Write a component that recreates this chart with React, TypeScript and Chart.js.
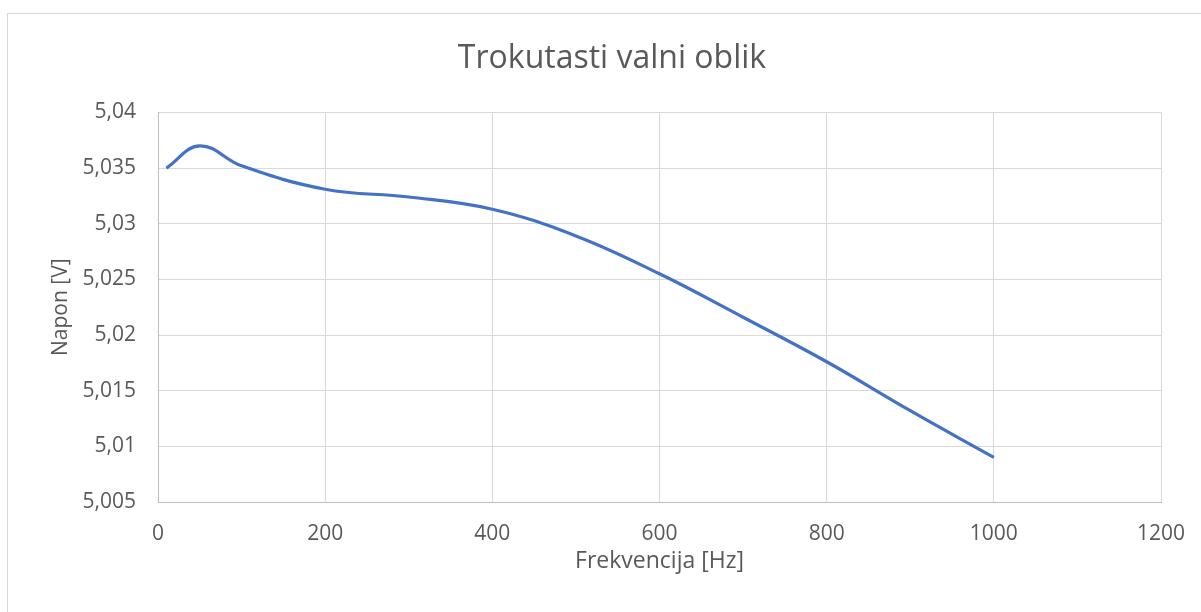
import React, { useEffect, useRef } from "react";
import { Chart, registerables } from "chart.js";

Chart.register(...registerables);

const TITLE = "Trokutasti valni oblik";
const X_TITLE = "Frekvencija [Hz]";
const Y_TITLE = "Napon [V]";

const frequency = [10, 50, 100, 200, 300, 400, 500, 600, 700, 800, 900, 1000];
const voltage = [5.035, 5.037, 5.0352, 5.0331, 5.0324, 5.0313, 5.0289, 5.0255, 5.0216, 5.0176, 5.0132, 5.009];

const X_TICKS = [0, 200, 400, 600, 800, 1000, 1200];
const Y_TICKS = [5.005, 5.01, 5.015, 5.02, 5.025, 5.03, 5.035, 5.04];

const FONT = "'Open Sans', 'Noto Sans', sans-serif";
const TEXT = "#595959";

const fmtY = (v: number) => {
  let s = v.toFixed(3);
  s = s.replace(/0+$/, "").replace(/\.$/, "");
  return s.replace(".", ",");
};

const outerBorder = {
  id: "outerBorder",
  beforeDraw(chart: any) {
    const { ctx, width, height } = chart;
    ctx.save();
    ctx.fillStyle = "#ffffff";
    ctx.fillRect(0, 0, width, height);
    ctx.strokeStyle = "#d9d9d9";
    ctx.lineWidth = 1;
    ctx.strokeRect(7.5, 13.5, width + 20, height + 20);
    ctx.restore();
  },
};

export default function App() {
  const ref = useRef<HTMLCanvasElement | null>(null);

  useEffect(() => {
    document.body.style.margin = "0";
    const canvas = ref.current;
    if (!canvas) return;
    const chart = new Chart(canvas, {
      type: "scatter",
      data: {
        datasets: [
          {
            data: frequency.map((x, i) => ({ x, y: voltage[i] })),
            showLine: true,
            borderColor: "#4472c4",
            backgroundColor: "#4472c4",
            borderWidth: 3.2,
            pointRadius: 0,
            tension: 0.4,
            fill: false,
          },
        ],
      },
      options: {
        responsive: false,
        animation: false,
        devicePixelRatio: 1,
        layout: { padding: { top: 0, left: 63, right: 40, bottom: 0 } },
        plugins: {
          legend: { display: false },
          tooltip: { enabled: false },
          title: {
            display: true,
            text: TITLE,
            color: TEXT,
            font: { family: FONT, size: 32, weight: "normal" },
            padding: { top: 40, bottom: 34 },
          },
        },
        scales: {
          x: {
            type: "linear",
            min: 0,
            max: 1200,
            afterBuildTicks: (scale: any) => {
              scale.ticks = X_TICKS.map((v) => ({ value: v }));
            },
            afterFit: (scale: any) => {
              scale.height = 110;
              scale.paddingRight = 0;
            },
            ticks: {
              color: TEXT,
              font: { family: FONT, size: 21 },
              padding: 19,
              maxRotation: 0,
              callback: (v: any) => String(v),
            },
            grid: { color: "#d9d9d9", lineWidth: 1, drawTicks: false },
            border: { color: "#bfbfbf", width: 1 },
            title: {
              display: true,
              text: X_TITLE,
              color: TEXT,
              font: { family: FONT, size: 23 },
              padding: { top: 0, bottom: 37 },
            },
          },
          y: {
            type: "linear",
            min: 5.005,
            max: 5.04,
            afterBuildTicks: (scale: any) => {
              scale.ticks = Y_TICKS.map((v) => ({ value: v }));
            },
            afterFit: (scale: any) => {
              scale.width = 95;
            },
            ticks: {
              color: TEXT,
              font: { family: FONT, size: 21 },
              padding: 22,
              callback: (v: any) => fmtY(Number(v)),
            },
            grid: { color: "#d9d9d9", lineWidth: 1, drawTicks: false },
            border: { color: "#bfbfbf", width: 1 },
            title: {
              display: true,
              text: Y_TITLE,
              color: TEXT,
              font: { family: FONT, size: 21 },
              padding: { top: -15, bottom: 0 },
            },
          },
        },
      },
      plugins: [outerBorder],
    });
    return () => chart.destroy();
  }, []);

  return (
    <div style={{ width: 1201, height: 612 }}>
      <canvas ref={ref} width={1201} height={612} style={{ display: "block" }} />
    </div>
  );
}
